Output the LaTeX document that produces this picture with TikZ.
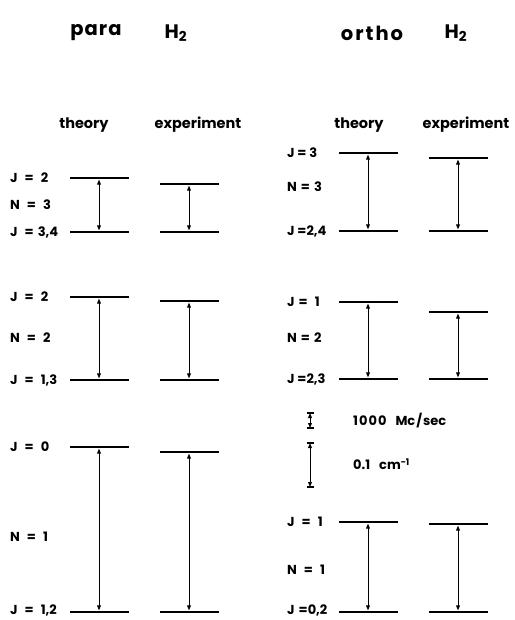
\documentclass[tikz,border=0pt]{standalone}
\usepackage{fontspec}
\setmainfont{Poppins}
\usetikzlibrary{arrows.meta}

\newcommand{\wsp}{\hspace{7pt}}
\newcommand{\nsp}{\hspace{4pt}}

\begin{document}
\begin{tikzpicture}[x=1pt, y=-1pt,
  lvl/.style={fill=black, inner sep=0pt, minimum width=59pt, minimum height=2.8pt},
  arr/.style={{Triangle[length=5pt, width=3.8pt]}-{Triangle[length=5pt, width=3.8pt]},
              line width=0.9pt},
  lab/.style={anchor=west, inner sep=0pt, text height=9pt, text depth=0pt,
              font=\fontsize{13}{15}\selectfont\bfseries},
  head/.style={inner sep=0pt, font=\fontsize{19.5}{22}\selectfont\bfseries},
  col/.style={inner sep=0pt, font=\fontsize{14.5}{16}\selectfont\bfseries},
  scalecap/.style={line width=1.3pt}
]
  \useasboundingbox (0,0) rectangle (514,620);

  % ========== HEADINGS ==========
  \node[head] (paraT) at (96,33) {p\kern1pt a\kern1pt r\kern1pt a};
  \node[head] (paraH) at (176,33) {H\textsubscript{2}};
  \node[head] (orthoT) at (372,33) {o\kern2pt r\kern2pt t\kern2pt h\kern2pt o};
  \node[head] (orthoH) at (456,33) {H\textsubscript{2}};

  \node[col] (pthe) at (84,125) {theory};
  \node[col] (pexp) at (198,125) {experiment};
  \node[col] (othe) at (359,125) {theory};
  \node[col] (oexp) at (466,125) {experiment};

  % ========== PARA: N = 3 ==========
  \node[lvl] (pa3t) at (99,178) {};
  \node[lvl] (pa3b) at (99,232) {};
  \node[lvl] (pe3t) at (189,184) {};
  \node[lvl] (pe3b) at (189,232) {};
  \draw[arr] (pa3t) -- (pa3b);
  \draw[arr] (pe3t) -- (pe3b);
  \node[lab] (pj3t) at (10,178) {J\wsp=\wsp2};
  \node[lab] (pn3) at (10,205) {N\wsp=\wsp3};
  \node[lab] (pj3b) at (10,232) {J\wsp=\nsp3,4};

  % ========== PARA: N = 2 ==========
  \node[lvl] (pa2t) at (99,297) {};
  \node[lvl] (pa2b) at (99,380) {};
  \node[lvl] (pe2t) at (189,301) {};
  \node[lvl] (pe2b) at (189,380) {};
  \draw[arr] (pa2t) -- (pa2b);
  \draw[arr] (pe2t) -- (pe2b);
  \node[lab] (pj2t) at (10,297) {J\wsp=\wsp2};
  \node[lab] (pn2) at (10,338) {N\wsp=\wsp2};
  \node[lab] (pj2b) at (10,380) {J\wsp=\wsp1,3};

  % ========== PARA: N = 1 ==========
  \node[lvl] (pa1t) at (99,447) {};
  \node[lvl] (pa1b) at (99,612) {};
  \node[lvl] (pe1t) at (189,452) {};
  \node[lvl] (pe1b) at (189,612) {};
  \draw[arr] (pa1t) -- (pa1b);
  \draw[arr] (pe1t) -- (pe1b);
  \node[lab] (pj1t) at (10,447) {J\wsp=\wsp0};
  \node[lab] (pn1) at (10,537) {N\wsp=\wsp1};
  \node[lab] (pj1b) at (10,610) {J\wsp=\wsp1,2};

  % ========== ORTHO: N = 3 ==========
  \node[lvl] (oa3t) at (368,153) {};
  \node[lvl] (oa3b) at (368,231) {};
  \node[lvl] (oe3t) at (458,158) {};
  \node[lvl] (oe3b) at (458,231) {};
  \draw[arr] (oa3t) -- (oa3b);
  \draw[arr] (oe3t) -- (oe3b);
  \node[lab] (oj3t) at (287,153) {J = 3};
  \node[lab] (on3) at (287,187) {N\nsp=\nsp3};
  \node[lab] (oj3b) at (287,231) {J =2,4};

  % ========== ORTHO: N = 2 ==========
  \node[lvl] (oa2t) at (368,302) {};
  \node[lvl] (oa2b) at (368,379) {};
  \node[lvl] (oe2t) at (458,312) {};
  \node[lvl] (oe2b) at (458,379) {};
  \draw[arr] (oa2t) -- (oa2b);
  \draw[arr] (oe2t) -- (oe2b);
  \node[lab] (oj2t) at (287,302) {J\nsp=\wsp1};
  \node[lab] (on2) at (287,338) {N\nsp=\nsp2};
  \node[lab] (oj2b) at (287,379) {J =2,3};

  % ========== SCALE ==========
  \coordinate (s1t) at (310,413);
  \coordinate (s1b) at (310,428);
  \coordinate (s2t) at (310,443);
  \coordinate (s2b) at (310,487);
  \draw[arr] (s1t) -- (s1b);
  \draw[arr] (s2t) -- (s2b);
  \foreach \c in {s1t,s1b,s2t,s2b}
    \draw[scalecap] ([xshift=-3.5pt]\c) -- ([xshift=3.5pt]\c);
  \node[lab] (sc1) at (353,421) {1\kern1pt0\kern1pt0\kern1pt0\hspace{9pt}Mc\kern1pt/\kern1pt sec};
  \node[lab] (sc2) at (353,465) {0.1\hspace{9pt}cm\textsuperscript{−1}};

  % ========== ORTHO: N = 1 ==========
  \node[lvl] (oa1t) at (368,522) {};
  \node[lvl] (oa1b) at (368,612) {};
  \node[lvl] (oe1t) at (458,524) {};
  \node[lvl] (oe1b) at (458,612) {};
  \draw[arr] (oa1t) -- (oa1b);
  \draw[arr] (oe1t) -- (oe1b);
  \node[lab] (oj1t) at (287,522) {J\wsp=\wsp1};
  \node[lab] (on1) at (287,570) {N\wsp=\wsp1};
  \node[lab] (oj1b) at (287,610) {J\nsp=0,2};

\end{tikzpicture}
\end{document}
